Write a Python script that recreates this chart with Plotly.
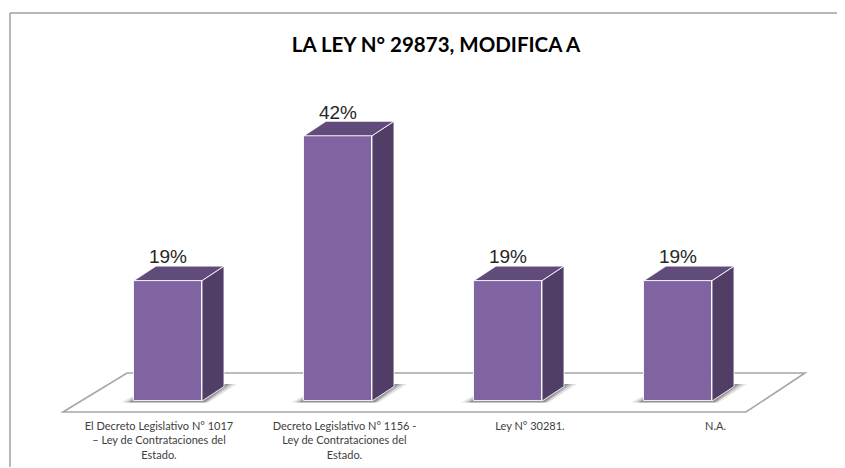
import plotly.graph_objects as go

# ---------------- data ----------------
categories = [
    "El Decreto Legislativo N° 1017<br>– Ley de Contrataciones del<br>Estado.",
    "Decreto Legislativo N° 1156 -<br>Ley de Contrataciones del<br>Estado.",
    "Ley N° 30281.",
    "N.A.",
]
values = [19.2, 42.3, 19.2, 19.2]
value_labels = ["19%", "42%", "19%", "19%"]
title_text = "LA LEY N° 29873, MODIFICA A"

# ---------------- layout constants ----------------
OFF = 8                          # page body margin
W, H = 845 - OFF, 468 - OFF
BOTTOM = 50                      # bottom margin (px)
PLOT_H = H - BOTTOM
PX_PER_UNIT = 6.27               # vertical px per value unit
BASE_PX = 401 - OFF              # px from top of value 0
BAR_PX0, BAR_STEP = 168 - OFF, 170
LAB_PX0, LAB_STEP = 159 - OFF, 185.5
BAR_W = 68 / BAR_STEP
DX = 22 / BAR_STEP               # 3D depth offset (x units)
DY = 14.5 / PX_PER_UNIT          # 3D depth offset (value units)

FRONT = "#8064A2"
SIDE = "#503E66"
TOP = "#604B7A"
EDGE = "rgba(255,255,255,0.85)"

x_range = [-BAR_PX0 / BAR_STEP, (W - BAR_PX0) / BAR_STEP]
x2_range = [-LAB_PX0 / LAB_STEP, (W - LAB_PX0) / LAB_STEP]
y_range = [-(PLOT_H - BASE_PX) / PX_PER_UNIT, BASE_PX / PX_PER_UNIT]

idx = list(range(len(values)))

fig = go.Figure()


def path(xs, ys):
    return "M " + " L ".join(f"{a},{b}" for a, b in zip(xs, ys)) + " Z"


def py(page_px):
    """page pixel row -> paper y (paper spans the plot area)"""
    return 1 - (page_px - OFF) / PLOT_H


shapes = []
# floor (parallelogram)
floor_front_y = -(412 - 401) / PX_PER_UNIT
floor_back_y = (401 - 373) / PX_PER_UNIT
shapes.append(dict(type="path", xref="x", yref="y", layer="below",
                   path=path([-0.618, 3.40, 3.747, -0.241],
                             [floor_front_y, floor_front_y, floor_back_y, floor_back_y]),
                   fillcolor="white", line=dict(color="#A6A6A6", width=1.6)))
# soft shadows under bars
for i in idx:
    l, r = i - BAR_W / 2, i + BAR_W / 2
    for grow, alpha in [(0.075, 0.14), (0.05, 0.22), (0.03, 0.32)]:
        shapes.append(dict(type="path", xref="x", yref="y", layer="below",
                           path=path([l - grow, r + grow * 0.5, r + DX + grow, l + DX],
                                     [-0.25, -0.25, DY + 0.4, DY + 0.4]),
                           fillcolor=f"rgba(60,60,60,{alpha})", line=dict(width=0)))

# side faces
side_x, side_y = [], []
for i, v in zip(idx, values):
    r = i + BAR_W / 2
    side_x += [r, r + DX, r + DX, r, r, None]
    side_y += [0, DY, v + DY, v, 0, None]
fig.add_trace(go.Scatter(x=side_x, y=side_y, mode="lines", fill="toself",
                         fillcolor=SIDE, line=dict(color=EDGE, width=1),
                         hoverinfo="skip", showlegend=False))

# top faces
top_x, top_y = [], []
for i, v in zip(idx, values):
    l, r = i - BAR_W / 2, i + BAR_W / 2
    top_x += [l, r, r + DX, l + DX, l, None]
    top_y += [v, v, v + DY, v + DY, v, None]
fig.add_trace(go.Scatter(x=top_x, y=top_y, mode="lines", fill="toself",
                         fillcolor=TOP, line=dict(color=EDGE, width=1),
                         hoverinfo="skip", showlegend=False))

# front faces
fig.add_trace(go.Bar(x=idx, y=values, width=BAR_W, base=0,
                     marker=dict(color=FRONT, line=dict(color=EDGE, width=1)),
                     hoverinfo="skip", showlegend=False))

# value labels
fig.add_trace(go.Scatter(x=idx, y=[v + 22 / PX_PER_UNIT for v in values],
                         mode="text", text=value_labels, textposition="middle center",
                         textfont=dict(family="Liberation Sans", size=19, color="#262626"),
                         hoverinfo="skip", showlegend=False))

# category labels on a secondary axis
fig.add_trace(go.Scatter(x=idx, y=[None] * len(idx), xaxis="x2", mode="markers",
                         hoverinfo="skip", showlegend=False))

fig.update_layout(
    width=W, height=H,
    margin=dict(l=0, r=0, t=0, b=BOTTOM),
    paper_bgcolor="white", plot_bgcolor="white",
    title=dict(text=f"<b>{title_text}</b>", x=(436 - OFF) / W, xanchor="center",
               y=1 - (45 - OFF) / H, yanchor="middle",
               font=dict(family="Lato", size=20.5, color="#000000")),
    xaxis=dict(range=x_range, visible=False, fixedrange=True),
    xaxis2=dict(range=x2_range, overlaying="x", side="bottom", anchor="y",
                tickmode="array", tickvals=idx, ticktext=categories,
                showgrid=False, zeroline=False, showline=False, ticks="",
                tickfont=dict(family="Lato", size=11, color="#404040")),
    yaxis=dict(range=y_range, visible=False, fixedrange=True),
    bargap=0,
    shapes=shapes + [
        dict(type="line", xref="paper", yref="paper",
             x0=(10 - OFF) / W, x1=1, y0=py(13), y1=py(13),
             line=dict(color="#A0A0A0", width=1.5)),
        dict(type="line", xref="paper", yref="paper",
             x0=(10 - OFF) / W, x1=(10 - OFF) / W, y0=py(13), y1=py(467),
             line=dict(color="#A0A0A0", width=1.5)),
    ],
)

fig.write_html("out.html")
